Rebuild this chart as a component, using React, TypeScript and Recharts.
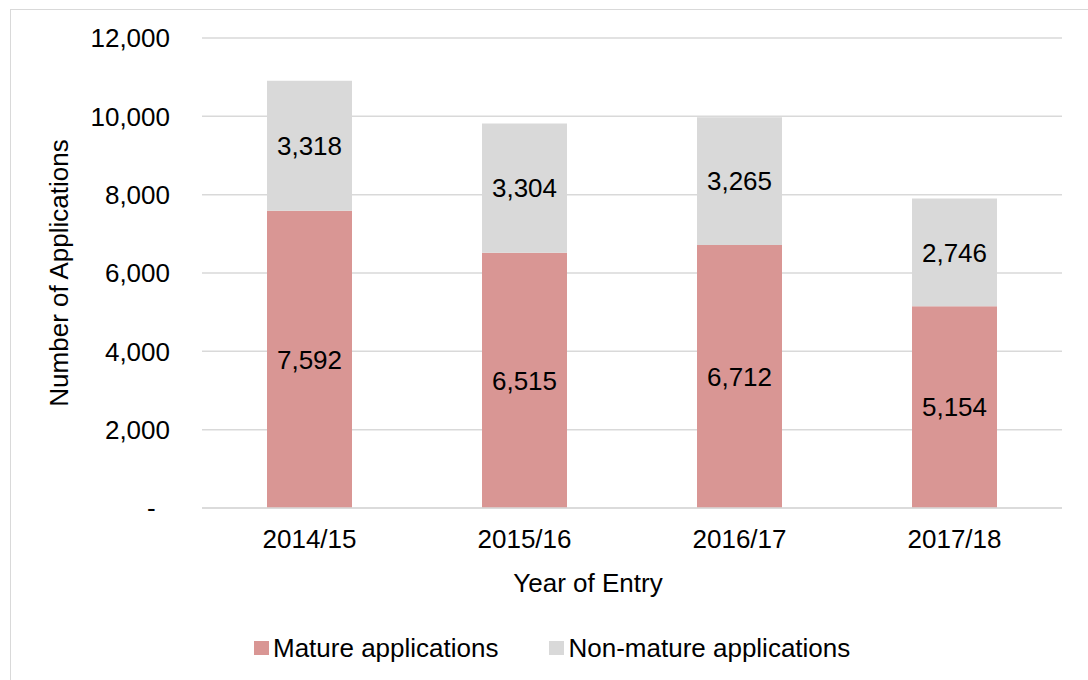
import React from "react";
import { BarChart, Bar, XAxis, YAxis, CartesianGrid, Legend, LabelList, Label } from "recharts";

const years = ["2014/15", "2015/16", "2016/17", "2017/18"];
const mature = [7592, 6515, 6712, 5154];
const nonMature = [3318, 3304, 3265, 2746];
const yTicks = [0, 2000, 4000, 6000, 8000, 10000, 12000];

const MATURE_COLOR = "#D99694";
const NON_MATURE_COLOR = "#D9D9D9";
const FONT = "'Liberation Sans', Arial, sans-serif";
const FS = 26;

const data = years.map((y, i) => ({ year: y, mature: mature[i], nonMature: nonMature[i] }));

const fmt = (v: number) => (v === 0 ? "-\u2007" : v.toLocaleString("en-US"));

const LegendContent = (props: any) => {
  const payload = props.payload || [];
  return (
    <div style={{ display: "flex", alignItems: "center", height: 34, fontFamily: FONT, fontSize: FS, color: "#000" }}>
      {payload.map((p: any, i: number) => (
        <div key={i} style={{ display: "flex", alignItems: "center", marginRight: i === 0 ? 51 : 0 }}>
          <span style={{ display: "inline-block", width: 15, height: 14, background: p.color, marginRight: 4 }} />
          <span>{p.value}</span>
        </div>
      ))}
    </div>
  );
};

export default function App() {
  return (
    <div style={{ position: "absolute", left: 0, top: 0, width: 1088, height: 680, overflow: "hidden", background: "#fff" }}>
      <div style={{ position: "absolute", left: 10, top: 9, width: 1100, height: 700, border: "1px solid #d9d9d9" }} />
      <div style={{ position: "absolute", left: 0, top: 0 }}>
        <BarChart
          width={1088}
          height={680}
          data={data}
          margin={{ top: 38, right: 26, left: 0, bottom: 72 }}
          style={{ fontFamily: FONT }}
        >
          <CartesianGrid vertical={false} stroke="#d9d9d9" strokeWidth={1.5} />
          <XAxis
            dataKey="year"
            height={100}
            axisLine={{ stroke: "#d9d9d9", strokeWidth: 1.5 }}
            tickLine={false}
            tickSize={0}
            tickMargin={22}
            tick={{ fill: "#000", fontSize: FS, fontFamily: FONT }}
          >
            <Label value="Year of Entry" position="insideBottom" offset={16} dx={-44} style={{ fill: "#000", fontSize: FS, fontFamily: FONT }} />
          </XAxis>
          <YAxis
            width={202}
            domain={[0, 12000]}
            ticks={yTicks}
            interval={0}
            axisLine={false}
            tickLine={false}
            tickSize={0}
            tickMargin={32}
            tickFormatter={fmt}
            tick={{ fill: "#000", fontSize: FS, fontFamily: FONT }}
          >
            <Label
              value="Number of Applications"
              angle={-90}
              position="insideLeft"
              offset={59}
              style={{ fill: "#000", fontSize: FS, fontFamily: FONT, textAnchor: "middle" }}
            />
          </YAxis>
          <Legend
            verticalAlign="middle"
            align="center"
            layout="horizontal"
            wrapperStyle={{ top: 631, left: 254, width: 720, height: 34 }}
            content={LegendContent}
          />
          <Bar dataKey="mature" name="Mature applications" stackId="a" fill={MATURE_COLOR} barSize={85} isAnimationActive={false}>
            <LabelList dataKey="mature" position="center" formatter={(v: any) => Number(v).toLocaleString("en-US")} style={{ fill: "#000", fontSize: FS, fontFamily: FONT }} />
          </Bar>
          <Bar dataKey="nonMature" name="Non-mature applications" stackId="a" fill={NON_MATURE_COLOR} barSize={85} isAnimationActive={false}>
            <LabelList dataKey="nonMature" position="center" formatter={(v: any) => Number(v).toLocaleString("en-US")} style={{ fill: "#000", fontSize: FS, fontFamily: FONT }} />
          </Bar>
        </BarChart>
      </div>
    </div>
  );
}
